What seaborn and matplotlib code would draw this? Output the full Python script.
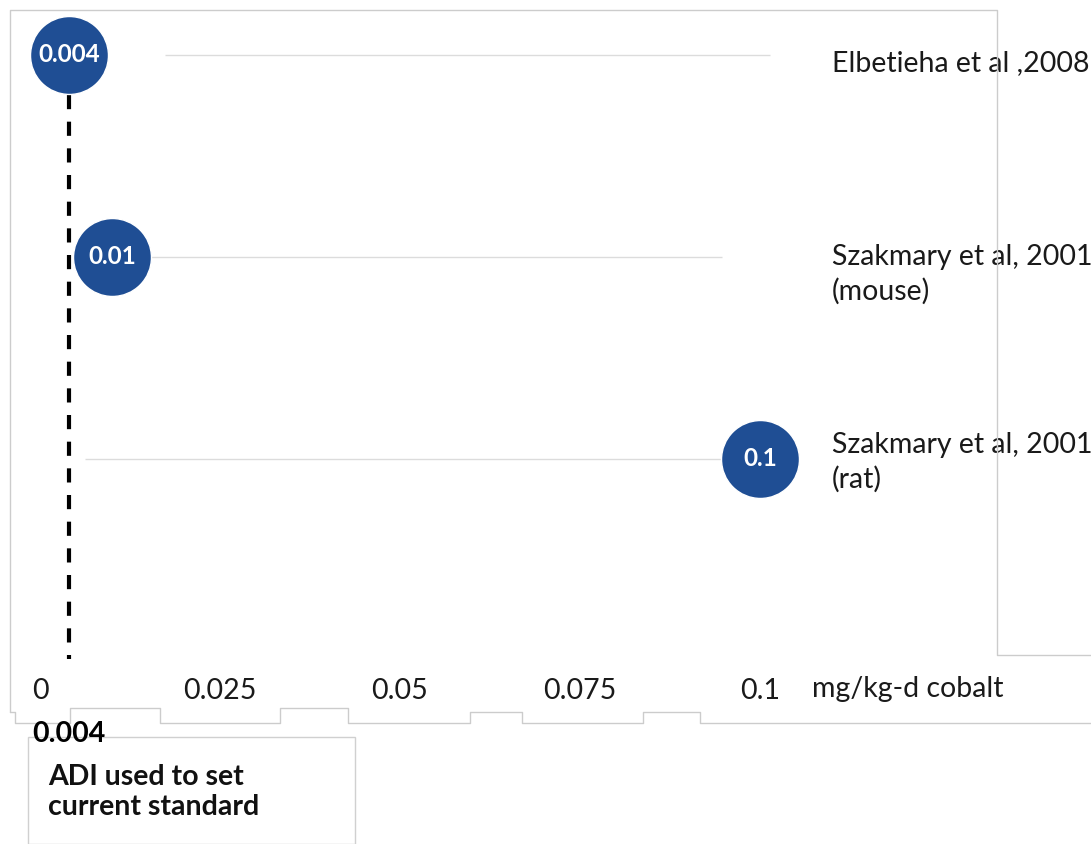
import pandas as pd
import numpy as np
import matplotlib.pyplot as plt
import seaborn as sns
from matplotlib.lines import Line2D
from matplotlib.patches import Rectangle

# values
studies = ['Elbetieha et al ,2008', 'Szakmary et al, 2001\n(mouse)', 'Szakmary et al, 2001\n(rat)']
doses = [0.004, 0.01, 0.1]
dose_labels = ['0.004', '0.01', '0.1']
guide_start = [0.0174, 0.0153, 0.0063]
guide_end = [0.1014, 0.0947, 0.0956]
adi_value = 0.004
x_ticks = [0, 0.025, 0.05, 0.075, 0.1]
x_tick_labels = ['0', '0.025', '0.05', '0.075', '0.1']
unit_label = 'mg/kg-d cobalt'
adi_text = 'ADI used to set\ncurrent standard'

df = pd.DataFrame({'study': studies, 'dose': doses, 'row': range(len(studies))})

sns.set_theme(style='white')
plt.rcParams['font.family'] = ['Lato', 'DejaVu Sans']

W, H = 1091, 844
FS = 20.5
fig = plt.figure(figsize=(W / 100, H / 100), dpi=100)
ax_bottom_px = 672
ax = fig.add_axes([0, (H - ax_bottom_px) / H, 1, ax_bottom_px / H])

# pixel layout: x=0 at 40px, 7200 px per unit; rows 202 px apart starting at 55px
px0, px_per_unit = 40, 7200
ax.set_xlim(-px0 / px_per_unit, (W - px0) / px_per_unit)
row0, row_gap = 55, 202
ax.set_ylim((ax_bottom_px - row0) / row_gap, -row0 / row_gap)

blue = '#1f4e94'

# light guide lines per study
ax.hlines(df['row'], guide_start, guide_end, color='#dcdcdc', lw=1, zorder=1)

# ADI dashed line
ax.vlines(adi_value, 0.2, 2.99, color='black', lw=3, linestyles=(0, (3.4, 3.0)), zorder=2)

sns.scatterplot(data=df, x='dose', y='row', s=3150, color=blue, edgecolor='white',
                linewidth=1, ax=ax, zorder=3, legend=False, clip_on=False)

for x, y, lab in zip(df['dose'], df['row'], dose_labels):
    ax.text(x, y, lab, color='white', fontsize=17.5, fontweight='bold',
            ha='center', va='center', zorder=4)

# study labels to the right
label_x = 0.11
label_dy = [0.04, 0.0, -0.07]
for y, lab, dy in zip(df['row'], df['study'], label_dy):
    for k, line in enumerate(lab.split('\n')):
        ax.text(label_x, y + dy + 0.17 * k, line, fontsize=FS, color='#1a1a1a',
                ha='left', va='center')

# x axis ticks
ax.set_xticks(x_ticks)
ax.set_xticklabels(x_tick_labels, fontsize=FS, color='#1a1a1a')
ax.tick_params(axis='x', length=0, pad=4)
ax.set_yticks([])
for sp in ax.spines.values():
    sp.set_visible(False)
ax.set_xlabel('')
ax.set_ylabel('')
ax.text(0.1 + 52 / px_per_unit, -4 / ax_bottom_px, unit_label,
        transform=ax.get_xaxis_transform(), fontsize=FS, color='#1a1a1a',
        ha='left', va='top')

# ADI value and note below the axis
fig.text((40 + adi_value * px_per_unit) / W, 1 - 734 / H, '0.004', fontsize=FS,
         fontweight='bold', ha='center', va='center', color='black')
fig.text(48 / W, 1 - 792 / H, adi_text, fontsize=FS, fontweight='bold',
         ha='left', va='center', color='#111111', linespacing=1.2)


def fig_line(points, color='#cccccc', lw=1):
    xs = [p[0] / W for p in points]
    ys = [1 - p[1] / H for p in points]
    fig.add_artist(Line2D(xs, ys, transform=fig.transFigure, color=color, lw=lw))


# screenshot frame pieces
fig_line([(10, 712), (10, 10), (997, 10), (997, 655), (1091, 655)])
fig_line([(10, 712), (15, 712), (15, 723), (70, 723), (70, 708), (160, 708), (160, 723),
          (280, 723), (280, 708), (348, 708), (348, 723), (470, 723), (470, 712),
          (522, 712), (522, 723), (643, 723), (643, 712), (700, 712), (700, 723),
          (1091, 723)])
fig.add_artist(Rectangle((28 / W, 0), (355 - 28) / W, (H - 745) / H + 0.01,
                         transform=fig.transFigure, fill=False, edgecolor='#d0d0d0', lw=1))

fig.savefig('out.png', dpi=100)
